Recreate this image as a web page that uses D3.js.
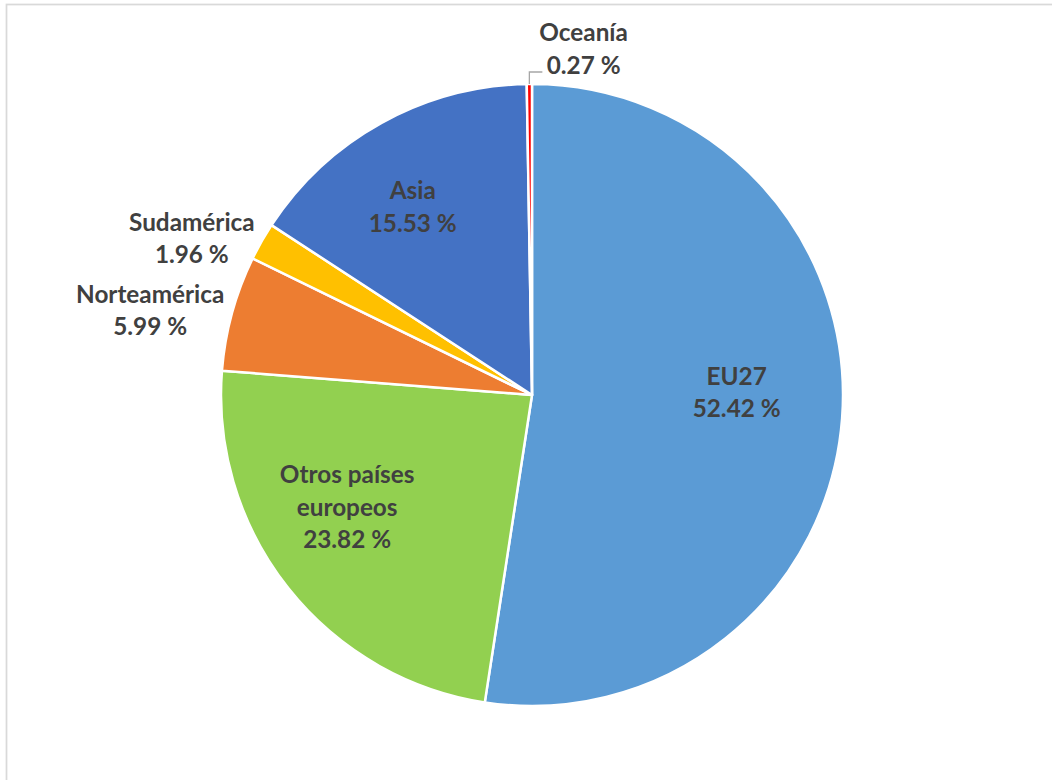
<!DOCTYPE html>
<html>
<head>
<meta charset="utf-8">
<script src="https://cdn.jsdelivr.net/npm/d3@7"></script>
<style>
  html, body { margin: 0; padding: 0; background: #fff; }
  svg { display: block; }
  text { font-family: Lato, "Open Sans", sans-serif; font-weight: 700; fill: #404040; }
</style>
</head>
<body>
<svg id="chart" width="1052" height="780"></svg>
<script>
// Regions and their share (%)
const regions = ["EU27", "Otros países europeos", "Norteamérica", "Sudamérica", "Asia", "Oceanía"];
const shares = [52.42, 23.82, 5.99, 1.96, 15.53, 0.27];
const colors = ["#5B9BD5", "#92D050", "#ED7D31", "#FFC000", "#4472C4", "#FF0000"];
// How each label is written (lines) and where it sits
const labelLines = [["EU27"], ["Otros países", "europeos"], ["Norteamérica"], ["Sudamérica"], ["Asia"], ["Oceanía"]];
const labelPlacement = ["inside", "inside", "outside", "outside", "inside", "leader"];
const labelNudge = [[0, -18], [-24, -15], [0, 0], [0, 1], [-20, -8], [0, 0]];

const svg = d3.select("#chart");
const width = 1052, height = 780;
const cx = 532, cy = 395, r = 311;
const fontSize = 24.3, lineGap = 32.5;

// Chart area frame
svg.append("rect")
  .attr("x", 6.5).attr("y", 4.5)
  .attr("width", width + 20).attr("height", height + 20)
  .attr("fill", "#fff").attr("stroke", "#d9d9d9").attr("stroke-width", 1.75);

const data = regions.map((name, i) => ({ name, value: shares[i], i }));

const pie = d3.pie().value(d => d.value).sort(null);
const arcs = pie(data);
const arc = d3.arc().innerRadius(0).outerRadius(r);

const g = svg.append("g").attr("transform", `translate(${cx},${cy})`);

g.selectAll("path.slice")
  .data(arcs)
  .join("path")
  .attr("class", "slice")
  .attr("d", arc)
  .attr("fill", d => colors[d.data.i])
  .attr("stroke", "#fff")
  .attr("stroke-width", 2.5)
  .attr("stroke-linejoin", "round");

const fmt = v => v.toFixed(2) + " %";

function drawLabel(lines, x, yCenter, anchor) {
  const t = g.append("text")
    .attr("font-size", fontSize)
    .attr("text-anchor", "middle");
  const n = lines.length;
  const first = yCenter - (n - 1) * lineGap / 2 + fontSize * 0.34;
  lines.forEach((s, k) => {
    t.append("tspan").attr("x", 0).attr("y", first + k * lineGap).text(s);
  });
  const w = t.node().getBBox().width;
  let tx = x;
  if (anchor === "end") tx = x - w / 2;
  if (anchor === "start") tx = x + w / 2;
  t.attr("transform", `translate(${tx},0)`);
  return t;
}

arcs.forEach(a => {
  const i = a.data.i;
  const lines = labelLines[i].concat([fmt(a.data.value)]);
  const mid = (a.startAngle + a.endAngle) / 2;
  const dir = [Math.sin(mid), -Math.cos(mid)];
  if (labelPlacement[i] === "inside") {
    const rho = r * 0.66;
    const x = dir[0] * rho + labelNudge[i][0];
    const y = dir[1] * rho + labelNudge[i][1];
    drawLabel(lines, x, y, "middle");
  } else if (labelPlacement[i] === "outside") {
    const rho = r + 8;
    const x = dir[0] * rho + labelNudge[i][0];
    const y = dir[1] * rho + labelNudge[i][1];
    drawLabel(lines, x, y, dir[0] < 0 ? "end" : "start");
  } else {
    // leader line from slice edge up and to the right
    const px = dir[0] * r, py = dir[1] * r;
    const elbowY = py - 12, endX = px + 13;
    g.append("path")
      .attr("d", `M${px},${py}L${px},${elbowY}L${endX},${elbowY}`)
      .attr("fill", "none").attr("stroke", "#a6a6a6").attr("stroke-width", 1.3);
    drawLabel(lines, endX - 3, elbowY - 23, "start");
  }
});
</script>
</body>
</html>
